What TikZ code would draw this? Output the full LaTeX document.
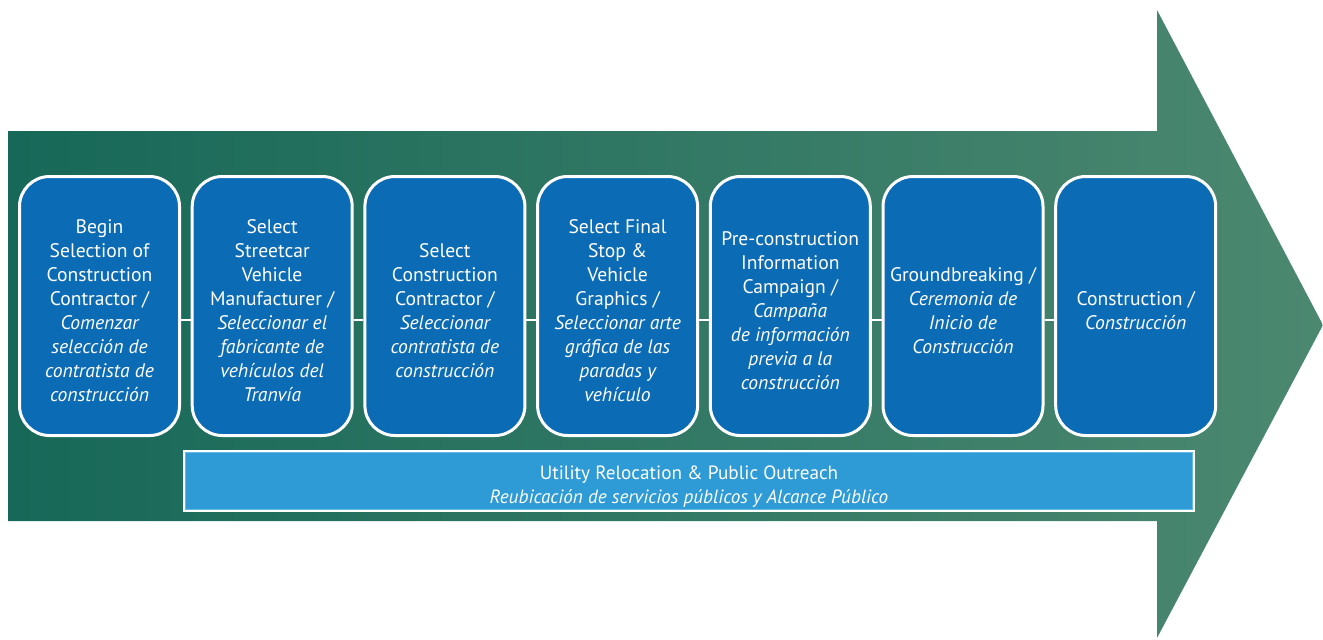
\documentclass[tikz,border=0pt]{standalone}
\usepackage{fontspec}
\setmainfont{PT Sans}
\usetikzlibrary{positioning}
\definecolor{arrowdark}{HTML}{176858}
\definecolor{arrowmid}{HTML}{26897A}
\definecolor{arrowlight}{HTML}{4C8870}
\definecolor{stepfill}{HTML}{0B6BB5}
\definecolor{barfill}{HTML}{2E9AD6}
\definecolor{barline}{HTML}{62B8E8}
% first line a little taller, so the text block sits lower in its box
\newcommand{\toppad}{\rule{0pt}{12pt}}
\tikzset{
  stage/.style = {draw=white, fill=stepfill, line width=1.5pt, rounded corners=15pt,
                  align=center, text=white, minimum width=80pt, minimum height=129.5pt,
                  inner sep=2pt, font=\fontsize{9.8}{12}\selectfont},
  band/.style  = {draw=white, fill=barfill, line width=1.5pt, align=center, text=white,
                  minimum width=504.5pt, minimum height=29.5pt, inner sep=1pt,
                  font=\fontsize{9.6}{12}\selectfont},
  link/.style  = {draw=white, line width=1pt}
}

\begin{document}
\begin{tikzpicture}[x=0.5pt, y=-0.5pt, node distance=4.85pt]
  \useasboundingbox (0,0) rectangle (1323,639);
  % timeline arrow
  \shade[left color=arrowdark, middle color=arrowmid, right color=arrowlight]
    (8,131) -- (1157,131) -- (1157,10) -- (1323,325) -- (1157,638)
    -- (1157,521) -- (8,521) -- cycle;

  % stages
  \node[stage] (s1) at (99.5,306)
       {\toppad Begin\\Selection of\\Construction\\Contractor /\\\itshape Comenzar\\
        \itshape selección de\\\itshape contratista de\\\itshape construcción};
  \node[stage, right=of s1] (s2)
       {\toppad Select\\Streetcar\\Vehicle\\Manufacturer /\\\itshape Seleccionar el\\
        \itshape fabricante de\\\itshape vehículos del\\\itshape Tranvía};
  \node[stage, right=of s2] (s3)
       {\toppad Select\\Construction\\Contractor /\\\itshape Seleccionar\\
        \itshape contratista de\\\itshape construcción};
  \node[stage, right=of s3] (s4)
       {\toppad Select Final\\Stop \&\\Vehicle\\Graphics /\\\itshape Seleccionar arte\\
        \itshape gráfica de las\\\itshape paradas y\\\itshape vehículo};
  \node[stage, right=of s4] (s5)
       {\toppad Pre-construction\\Information\\Campaign /\\\itshape Campaña\\
        \itshape de información\\\itshape previa a la\\\itshape construcción};
  \node[stage, right=of s5] (s6)
       {\toppad Groundbreaking /\\\itshape Ceremonia de\\\itshape Inicio de\\
        \itshape Construcción};
  \node[stage, right=of s6] (s7)
       {\toppad Construction /\\\itshape Construcción};

  % links between stages
  \foreach \a/\b in {s1/s2, s2/s3, s3/s4, s4/s5, s5/s6, s6/s7}
    \draw[link] ([yshift=-7pt]\a.east) -- ([yshift=-7pt]\b.west);

  % ongoing work under the stages
  \node[band] (outreach) at (689,481)
       {\toppad Utility Relocation \& Public Outreach\\
        \itshape Reubicación de servicios públicos y Alcance Público};
  \draw[barline, line width=0.5pt]
    ([shift={(1.3pt,-1.3pt)}]outreach.north west) rectangle
    ([shift={(-1.3pt,1.3pt)}]outreach.south east);
\end{tikzpicture}
\end{document}
